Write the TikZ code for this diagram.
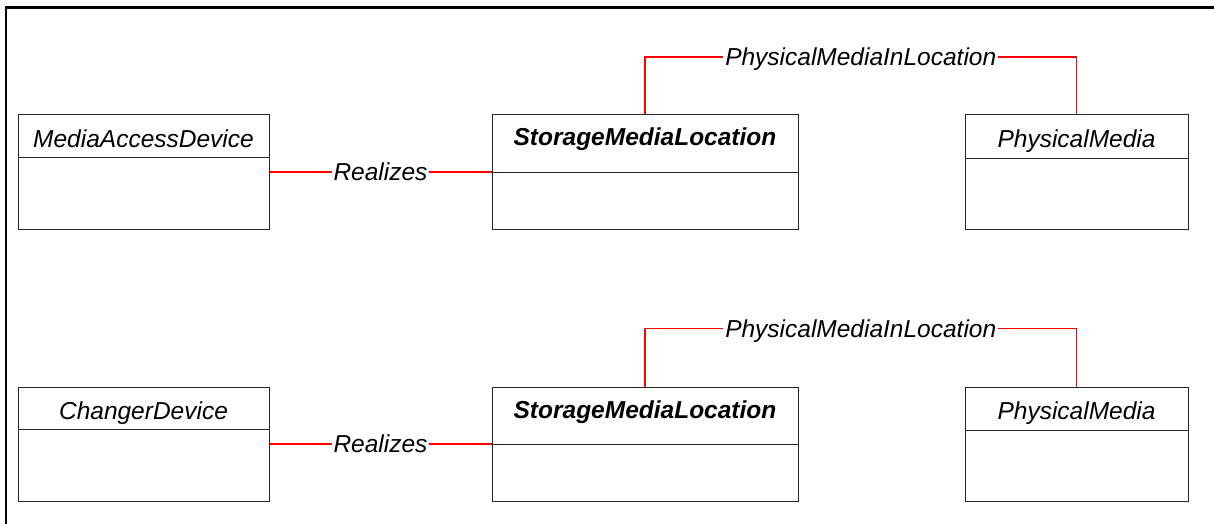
\documentclass[tikz,border=0pt]{standalone}
\usepackage{fontspec}
\setmainfont{Liberation Sans}
\usetikzlibrary{calc}
\tikzset{
  classbox/.style={draw=black!85, line width=1pt, rectangle, inner sep=0pt},
  divider/.style={draw=black!85, line width=1pt},
  title/.style={anchor=base, inner sep=0pt, font=\fontsize{24.5}{28}\selectfont\itshape},
  btitle/.style={title, font=\fontsize{24.5}{28}\selectfont\itshape\bfseries},
  assoc/.style={draw=red, line width=1.1pt},
  lbl/.style={fill=white, inner xsep=2pt, inner ysep=1pt, anchor=base, yshift=-8.5pt, font=\fontsize{24.5}{28}\selectfont\itshape},
  frameline/.style={draw=black, line width=2.4pt}
}
\begin{document}
\begin{tikzpicture}[x=1pt, y=-1pt]
\useasboundingbox (0,0) rectangle (1214,524);
\coordinate (fr1) at (6.2,524);
\coordinate (fr2) at (6.2,7.7);
\coordinate (fr3) at (1214,7.7);
\draw[frameline] (fr1) -- (fr2) -- (fr3);

% ---------- top row ----------
\node[classbox, minimum width=251pt, minimum height=114pt] (mad) at (143.5,172) {};
\node[classbox, minimum width=306pt, minimum height=114pt] (sml1) at (645,172) {};
\node[classbox, minimum width=223pt, minimum height=114pt] (pm1) at (1076.5,172) {};
\node[title] (tmad) at (143.5,147) {MediaAccessDevice};
\node[btitle] (tsml1) at (645,146) {StorageMediaLocation};
\node[title] (tpm1) at (1076.5,147) {PhysicalMedia};
\draw[divider] (mad.west |- 0,157) -- (mad.east |- 0,157);
\draw[divider] (sml1.west |- 0,172) -- (sml1.east |- 0,172);
\draw[divider] (pm1.west |- 0,158) -- (pm1.east |- 0,158);

\draw[assoc] (mad.east) -- node[lbl] (r1) {Realizes} (sml1.west);
\draw[assoc] (sml1.north) -- (sml1.north |- 0,57) -- node[lbl] (a1) {PhysicalMediaInLocation} (pm1.north |- 0,57) -- (pm1.north);

% ---------- bottom row ----------
\node[classbox, minimum width=251pt, minimum height=114pt] (cd) at (143.5,444) {};
\node[classbox, minimum width=306pt, minimum height=114pt] (sml2) at (645,444) {};
\node[classbox, minimum width=223pt, minimum height=114pt] (pm2) at (1076.5,444) {};
\node[title] (tcd) at (143.5,419) {ChangerDevice};
\node[btitle] (tsml2) at (645,418) {StorageMediaLocation};
\node[title] (tpm2) at (1076.5,419) {PhysicalMedia};
\draw[divider] (cd.west |- 0,429.5) -- (cd.east |- 0,429.5);
\draw[divider] (sml2.west |- 0,444) -- (sml2.east |- 0,444);
\draw[divider] (pm2.west |- 0,430) -- (pm2.east |- 0,430);

\draw[assoc] (cd.east) -- node[lbl] (r2) {Realizes} (sml2.west);
\draw[assoc] (sml2.north) -- (sml2.north |- 0,328.6) -- node[lbl] (a2) {PhysicalMediaInLocation} (pm2.north |- 0,328.6) -- (pm2.north);
\end{tikzpicture}
\end{document}
